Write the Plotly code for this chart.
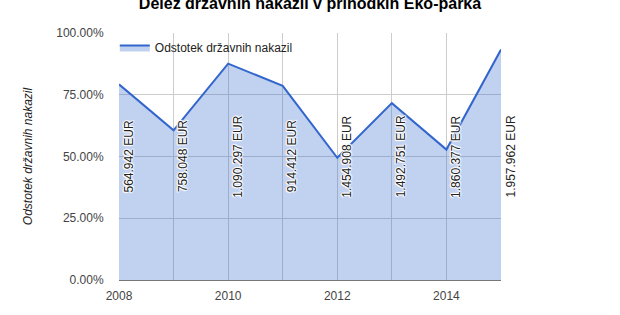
import plotly.graph_objects as go

years = [2008, 2009, 2010, 2011, 2012, 2013, 2014, 2015]
share_pct = [79.2, 60.6, 87.6, 78.6, 49.5, 71.6, 52.8, 93.3]
eur_labels = ["564.942 EUR", "758.048 EUR", "1.090.297 EUR", "914.412 EUR",
              "1.454.908 EUR", "1.492.751 EUR", "1.860.377 EUR", "1.957.962 EUR"]
y_ticks = [0, 25, 50, 75, 100]
y_tick_labels = ["0.00%", "25.00%", "50.00%", "75.00%", "100.00%"]
x_ticks = [2008, 2010, 2012, 2014]

FONT = "Arial, Liberation Sans, sans-serif"
HALO = "1px 0px 1px #fff, -1px 0px 1px #fff, 0px 1px 1px #fff, 0px -1px 1px #fff, 1px 1px 1px #fff, -1px -1px 1px #fff"

fig = go.Figure()
fig.add_trace(go.Scatter(
    x=years, y=share_pct, mode="lines", name="Odstotek državnih nakazil",
    line=dict(color="#3366cc", width=2),
    fill="tozeroy", fillcolor="rgba(51,102,204,0.3)",
    hoverinfo="x+y",
))

for yr, lab in zip(years, eur_labels):
    fig.add_annotation(
        x=yr, y=50, xref="x", yref="y", text=lab, textangle=-90,
        showarrow=False, xanchor="left", yanchor="middle", xshift=0,
        font=dict(family=FONT, size=12, color="#222", shadow=HALO),
    )

fig.update_layout(
    width=620, height=315,
    margin=dict(l=119, r=119, t=33, b=35),
    paper_bgcolor="white", plot_bgcolor="white",
    font=dict(family=FONT, size=12, color="#444"),
    title=dict(text="<b>Delež državnih nakazil v prihodkih Eko-parka</b>",
               x=0.5, xanchor="center", y=1 - 3.5 / 315, yanchor="middle",
               font=dict(family=FONT, size=16, color="#000")),
    showlegend=True,
    legend=dict(x=-0.011, y=1, xanchor="left", yanchor="top", bgcolor="rgba(0,0,0,0)",
                font=dict(family=FONT, size=12, color="#222"),
                borderwidth=0),
    xaxis=dict(range=[2008, 2015], tickvals=x_ticks, ticktext=[str(v) for v in x_ticks],
               showgrid=True, gridcolor="#cccccc", gridwidth=1,
               minor=dict(dtick=1, tick0=2008, showgrid=True, gridcolor="#cccccc", gridwidth=1),
               ticks="outside", ticklen=5, tickcolor="rgba(0,0,0,0)",
               showline=True, linecolor="#777", linewidth=1, mirror=False,
               zeroline=False, tickfont=dict(family=FONT, size=12, color="#444")),
    yaxis=dict(range=[0, 100], tickvals=y_ticks, ticktext=y_tick_labels,
               showgrid=True, gridcolor="#cccccc", gridwidth=1,
               ticks="outside", ticklen=12, tickcolor="rgba(0,0,0,0)",
               zeroline=False, showline=False,
               title=dict(text="<i>Odstotek državnih nakazil</i>", standoff=21,
                          font=dict(family=FONT, size=12, color="#222")),
               tickfont=dict(family=FONT, size=12, color="#444")),
)

fig.write_html("out.html")
